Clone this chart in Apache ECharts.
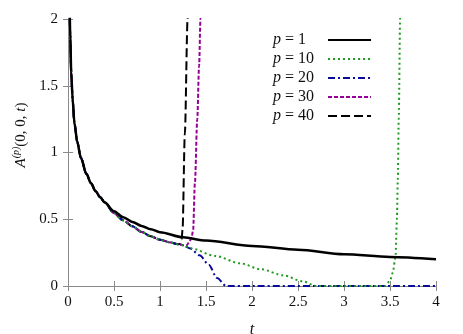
<!DOCTYPE html>
<html>
<head>
<meta charset="utf-8">
<script src="https://cdn.jsdelivr.net/npm/echarts@6/dist/echarts.min.js"></script>
<style>
  html, body { margin: 0; padding: 0; background: #fff; }
  #chart { width: 463px; height: 334px; }
</style>
</head>
<body>
<div id="chart"></div>
<script>
// shared steep start (all p follow it)
const tHead = [0.018, 0.025, 0.035, 0.05, 0.07, 0.1, 0.14, 0.2, 0.25, 0.3, 0.35, 0.4];
const aHead = [2.1, 1.85, 1.6, 1.4, 1.22, 1.08, 0.96, 0.84, 0.77, 0.71, 0.665, 0.625];

// p = 1
const tP1 = [0.5, 0.6, 0.7, 0.8, 0.9, 1.0, 1.25, 1.5, 2, 2.5, 3, 3.5, 4];
const aP1 = [0.56, 0.515, 0.48, 0.45, 0.425, 0.403, 0.365, 0.34, 0.3, 0.272, 0.238, 0.218, 0.2];

// lower branch shared by p = 10..40
const tLow = [0.5, 0.6, 0.7, 0.8, 0.9, 1.0, 1.1, 1.2];
const aLow = [0.545, 0.492, 0.447, 0.405, 0.372, 0.347, 0.328, 0.313];

const tP10 = [1.25, 1.33, 1.6, 1.87, 2.1, 2.34, 2.55, 2.7, 3, 3.45, 3.5, 3.53, 3.56, 3.575, 3.585, 3.595, 3.61, 3.615];
const aP10 = [0.305, 0.283, 0.225, 0.17, 0.125, 0.08, 0.035, 0, 0, 0, 0.04, 0.1, 0.22, 0.5, 0.8, 1.25, 2.0, 2.15];

const tP20 = [1.25, 1.33, 1.43, 1.53, 1.62, 1.72, 2, 3, 4];
const aP20 = [0.305, 0.28, 0.23, 0.16, 0.06, 0, 0, 0, 0];

const tP30 = [1.25, 1.29, 1.32, 1.345, 1.36, 1.38, 1.405, 1.425, 1.44, 1.445];
const aP30 = [0.305, 0.305, 0.33, 0.37, 0.42, 0.78, 1.25, 1.65, 2.0, 2.15];

const tP40 = [1.22, 1.235, 1.245, 1.27, 1.30, 1.305];
const aP40 = [0.315, 0.35, 0.42, 1.14, 2.0, 2.15];

const names = ['p = 1', 'p = 10', 'p = 20', 'p = 30', 'p = 40'];
const colors = ['#000000', '#1f9a1f', '#0a0a9a', '#960096', '#000000'];
const dashes = ['solid', [2, 3], [7, 3, 2, 3], [4, 2], [9, 4]];
const widths = [2.5, 2, 2, 2, 2];

const xTicks = { min: 0, max: 4, interval: 0.5 };
const yTicks = { min: 0, max: 2, interval: 0.5 };

function pairs(ts, as) {
  return ts.map((t, i) => [t, as[i]]);
}
const head = pairs(tHead, aHead);
const low = head.concat(pairs(tLow, aLow));
const seriesData = [
  head.concat(pairs(tP1, aP1)),
  low.concat(pairs(tP10, aP10)),
  low.concat(pairs(tP20, aP20)),
  low.concat(pairs(tP30, aP30)),
  low.concat(pairs(tP40, aP40))
];

const serif = "'Liberation Serif', 'Times New Roman', serif";
const boxColor = '#8a8a8a';
const ink = '#111';

const chart = echarts.init(document.getElementById('chart'), null, { renderer: 'canvas' });

const mirrorAxis = {
  axisLine: { show: true, lineStyle: { color: boxColor, width: 1 } },
  axisTick: { show: true, inside: true, length: 5, lineStyle: { color: boxColor } },
  axisLabel: { show: false },
  splitLine: { show: false }
};

// pad one-digit labels with a figure space so the icons line up
function legendText(name) {
  let rest = name.slice(1);
  if (rest.length < 5) rest += '\u2007';
  return '{i|p}{r|' + rest + '}{g| }';
}

const option = {
  backgroundColor: '#fff',
  animation: false,
  textStyle: { fontFamily: serif },
  grid: { left: 68, right: 27, top: 19, bottom: 48, containLabel: false, outerBoundsMode: 'none' },
  legend: {
    orient: 'vertical',
    left: 268,
    top: 27,
    align: 'right',
    itemWidth: 43,
    itemHeight: 10,
    itemGap: 3,
    data: names,
    itemStyle: { opacity: 0 },
    formatter: legendText,
    textStyle: {
      fontFamily: serif,
      fontSize: 16,
      color: ink,
      rich: {
        i: { fontFamily: serif, fontStyle: 'italic', fontSize: 16, color: ink },
        r: { fontFamily: serif, fontSize: 16, color: ink },
        g: { fontSize: 16, width: 9 }
      }
    }
  },
  xAxis: [
    Object.assign({
      type: 'value',
      name: '{i|t}',
      nameLocation: 'middle',
      nameGap: 36,
      nameTextStyle: { rich: { i: { fontFamily: serif, fontStyle: 'italic', fontSize: 16, color: ink } } },
      axisLine: { show: true, lineStyle: { color: boxColor, width: 1 } },
      axisTick: { show: true, inside: true, length: 5, lineStyle: { color: boxColor } },
      axisLabel: { fontFamily: serif, fontSize: 15, color: ink, margin: 9 },
      splitLine: { show: false }
    }, xTicks),
    Object.assign({ type: 'value', position: 'top' }, xTicks, mirrorAxis)
  ],
  yAxis: [
    Object.assign({
      type: 'value',
      name: '{i|A}{s|(p)}{n|(0, 0, }{i|t}{n|)}',
      nameLocation: 'middle',
      nameRotate: 90,
      nameGap: 31,
      nameTextStyle: {
        padding: [0, 0, 0, 35],
        rich: {
          i: { fontFamily: serif, fontStyle: 'italic', fontSize: 15, color: ink },
          n: { fontFamily: serif, fontSize: 15, color: ink },
          s: { fontFamily: serif, fontStyle: 'italic', fontSize: 10, color: ink, padding: [0, 0, 9, 0] }
        }
      },
      axisLine: { show: true, lineStyle: { color: boxColor, width: 1 } },
      axisTick: { show: true, inside: true, length: 5, lineStyle: { color: boxColor } },
      axisLabel: { fontFamily: serif, fontSize: 15, color: ink, margin: 10 },
      splitLine: { show: false }
    }, yTicks),
    Object.assign({ type: 'value', position: 'right' }, yTicks, mirrorAxis)
  ],
  series: names.map((n, i) => ({
    name: n,
    type: 'line',
    data: seriesData[i],
    showSymbol: false,
    symbol: 'none',
    smooth: 0.3,
    smoothMonotone: 'x',
    clip: true,
    z: 10 - i,
    color: colors[i],
    lineStyle: { color: colors[i], width: widths[i], type: dashes[i] }
  }))
};

chart.setOption(option);
</script>
</body>
</html>
